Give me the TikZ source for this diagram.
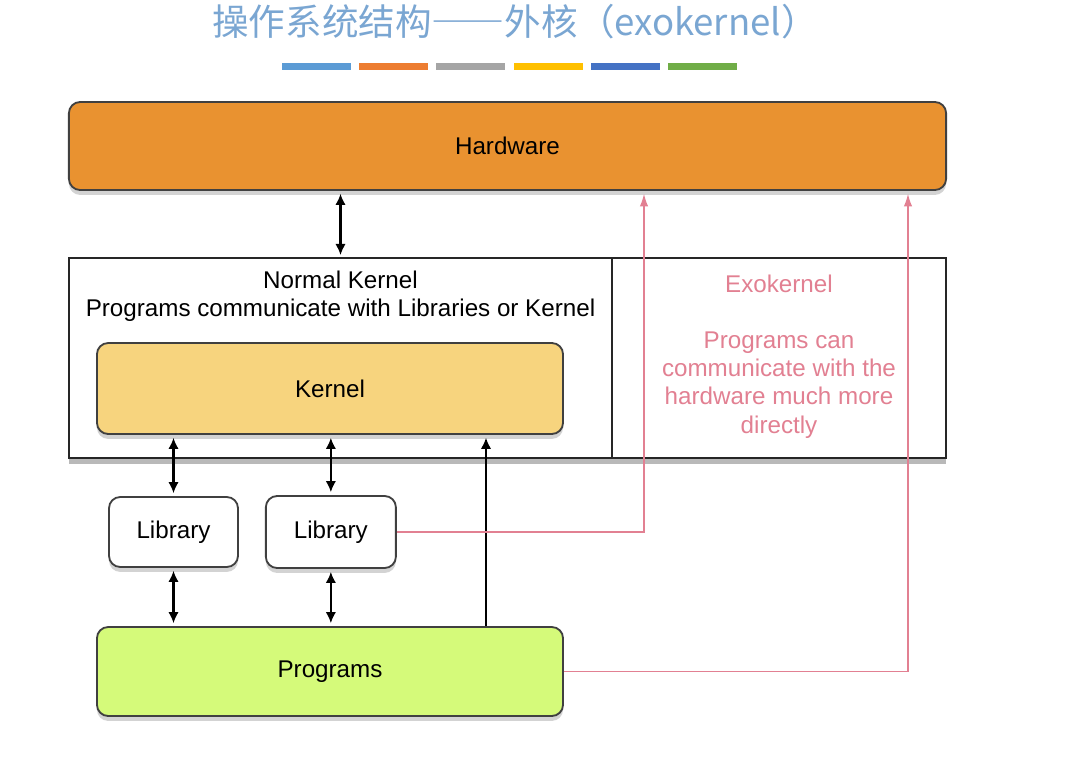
\documentclass[tikz,border=0pt]{standalone}
\usepackage{fontspec}
\setmainfont{Liberation Sans}
\newfontfamily\cjk{Noto Sans CJK SC}
\usetikzlibrary{positioning}
\usetikzlibrary{arrows.meta}
\usetikzlibrary{shadows}
\definecolor{hwfill}{RGB}{233,146,48}
\definecolor{kernfill}{RGB}{247,212,126}
\definecolor{progfill}{RGB}{213,250,122}
\definecolor{exopink}{RGB}{226,128,146}
\definecolor{titleblue}{RGB}{122,166,210}
\definecolor{bar1}{RGB}{91,155,213}
\definecolor{bar2}{RGB}{237,125,49}
\definecolor{bar3}{RGB}{165,165,165}
\definecolor{bar4}{RGB}{255,192,0}
\definecolor{bar5}{RGB}{68,114,196}
\definecolor{bar6}{RGB}{112,173,71}
\newcommand\lbl{\fontsize{17.2}{20}\selectfont}
\tikzset{
boxline/.style={line width=1.3pt},
block/.style={draw=black!75, boxline, rounded corners=8pt, inner sep=0pt, font=\lbl,
	drop shadow={opacity=0.35, shadow xshift=0pt, shadow yshift=-3.5pt}},
frame/.style={draw=black!85, boxline, inner sep=0pt, outer sep=0pt, fill=white,
	drop shadow={opacity=0.55, shadow xshift=0pt, shadow yshift=-4.5pt}},
biarrow/.style={>={Latex[length=8pt,width=7.5pt]}, <->, line width=1.6pt,
	shorten >=2pt, shorten <=2pt},
onearrow/.style={>={Latex[length=8pt,width=7.5pt]}, ->, line width=1.4pt, shorten >=2pt},
pinkarrow/.style={>={Latex[length=9pt,width=6pt]}, ->, exopink, line width=1pt, shorten >=2pt},
}

\begin{document}
\begin{tikzpicture}[x=0.025cm, y=-0.025cm]
\useasboundingbox (0,0) rectangle (1087,770);

%Title and colour bars
\node[font=\cjk\fontsize{26}{28}\selectfont, text=titleblue] (title) at (515,22)
	{操作系统结构{\addfontfeatures{CharacterWidth=Full}——}外核（exokernel）};
\foreach \c [count=\i] in {bar1,bar2,bar3,bar4,bar5,bar6} {
	\fill[\c] ({282+77.2*(\i-1)},63) rectangle +(69,7);
}

%Place the nodes
\node[block, fill=hwfill, minimum width=21.925cm, minimum height=2.2cm] (hw) at (507.5,146) {Hardware};
\node[frame, minimum width=13.575cm, minimum height=5cm] (normal) at (340.5,358) {};
\node[frame, minimum width=8.35cm, minimum height=5cm, right=0pt of normal] (exo) {};
\node[align=center, font=\lbl] (normaltxt) at (340.5,296) {Normal Kernel\\Programs communicate with Libraries or Kernel};
\node[align=center, font=\lbl, text=exopink] (exotxt) at (779,356.5) {Exokernel\\[20pt]Programs can\\communicate with the\\hardware much more\\directly};
\node[block, fill=kernfill, minimum width=11.65cm, minimum height=2.275cm] (kernel) at (330,388.5) {Kernel};
\node[block, fill=white, minimum width=3.225cm, minimum height=1.75cm] (lib1) at (173.5,532) {Library};
\node[block, fill=white, minimum width=3.25cm, minimum height=1.8cm, right=0.65cm of lib1] (lib2) {Library};
\node[block, fill=progfill, minimum width=11.65cm, minimum height=2.225cm] (prog) at (330,671.5) {Programs};

%Black arrows
\draw[biarrow] (hw.south -| normal) to (normal.north);
\draw[biarrow] (kernel.south -| lib1) to (lib1.north);
\draw[biarrow] (kernel.south -| lib2) to (lib2.north);
\draw[biarrow] (lib1.south) to (prog.north -| lib1);
\draw[biarrow] (lib2.south) to (prog.north -| lib2);
\coordinate (up) at (486,0);
\draw[onearrow] (prog.north -| up) to (kernel.south -| up);

%Straight to the hardware
\coordinate (libup) at (644,0);
\coordinate (progup) at (908,0);
\draw[pinkarrow] (lib2.east) -| (hw.south -| libup);
\draw[pinkarrow] (prog.east) -| (hw.south -| progup);

\end{tikzpicture}
\end{document}
